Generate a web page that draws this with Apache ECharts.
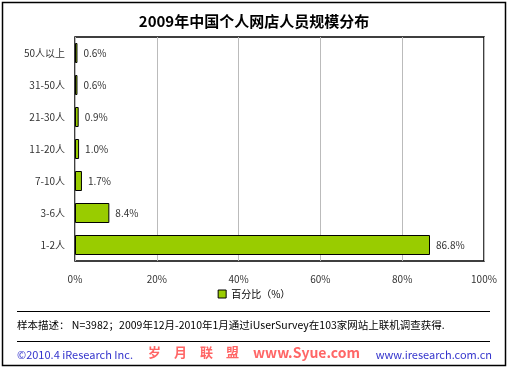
<!DOCTYPE html>
<html><head><meta charset="utf-8">
<script src="https://cdn.jsdelivr.net/npm/echarts@6/dist/echarts.min.js"></script>
<style>html,body{margin:0;padding:0;background:#fff}#c{width:508px;height:369px}</style>
</head><body><div id="c"></div>
<script>
const categories = ['1-2人','3-6人','7-10人','11-20人','21-30人','31-50人','50人以上'];
const values = [86.8, 8.4, 1.7, 1.0, 0.9, 0.6, 0.6];
const xTicks = [0, 20, 40, 60, 80, 100];
const seriesName = '百分比（%）';
const title = '2009年中国个人网店人员规模分布';
const note = '样本描述： N=3982；2009年12月-2010年1月通过iUserSurvey在103家网站上联机调查获得.';

const font = '"Noto Sans CJK SC", "DejaVu Sans", sans-serif';
const chart = echarts.init(document.getElementById('c'));
chart.setOption({
  animation: false,
  title: {text: title, left: 'center', top: 9, textStyle: {fontSize: 15, fontWeight: 'bold', color: '#000', fontFamily: font}},
  legend: {data: [seriesName], top: 284, left: 'center', itemWidth: 8, itemHeight: 8, itemGap: 4,
    textStyle: {fontSize: 10, color: '#000', fontFamily: font}, icon: 'rect',
    itemStyle: {borderColor: '#000', borderWidth: 1}},
  grid: {left: 75, right: 24, top: 37, height: 224, show: true, borderColor: '#000', borderWidth: 1.5},
  xAxis: {type: 'value', min: 0, max: 100, interval: 20,
    axisLabel: {formatter: v => xTicks.includes(v) ? v + '%' : '', margin: 13, fontSize: 10, color: '#333', fontFamily: font},
    splitLine: {lineStyle: {color: '#bbb'}}, axisLine: {show: false}, axisTick: {show: false}},
  yAxis: {type: 'category', data: categories,
    axisLabel: {fontSize: 10, color: '#333', fontFamily: font, margin: 10},
    axisLine: {show: false}, axisTick: {show: false}},
  series: [{name: seriesName, type: 'bar', data: values, barWidth: 20,
    itemStyle: {color: '#99cc00', borderColor: '#000', borderWidth: 1},
    label: {show: true, position: 'right', distance: 6, formatter: p => p.value.toFixed(1) + '%', fontSize: 10, color: '#333', fontFamily: font}}],
  graphic: [
    {type: 'rect', shape: {x: 2.5, y: 2.5, width: 503, height: 363}, style: {fill: 'none', stroke: '#000', lineWidth: 1.5}, z: -1},
    {type: 'line', shape: {x1: 17, y1: 311.5, x2: 490, y2: 311.5}, style: {stroke: '#000', lineWidth: 1}},
    {type: 'line', shape: {x1: 17, y1: 341.5, x2: 490, y2: 341.5}, style: {stroke: '#000', lineWidth: 1}},
    {type: 'text', left: 17, top: 320, style: {text: note, fontSize: 10.5, fill: '#000', fontFamily: font}},
    {type: 'text', left: 17, top: 349, style: {text: '©2010.4 iResearch Inc.', fontSize: 11, fill: '#3333cc', fontFamily: font}},
    {type: 'text', left: 148, top: 346, style: {text: '岁\u3000月\u3000联\u3000盟', fontSize: 13, fontWeight: 'bold', fill: '#ff6666', fontFamily: font}},
    {type: 'text', left: 253, top: 346, style: {text: 'www.Syue.com', fontSize: 14, fontWeight: 'bold', fill: '#ff6666', fontFamily: font}},
    {type: 'text', right: 16, top: 349, style: {text: 'www.iresearch.com.cn', fontSize: 11, fill: '#3333cc', fontFamily: font}}
  ]
});
</script></body></html>
